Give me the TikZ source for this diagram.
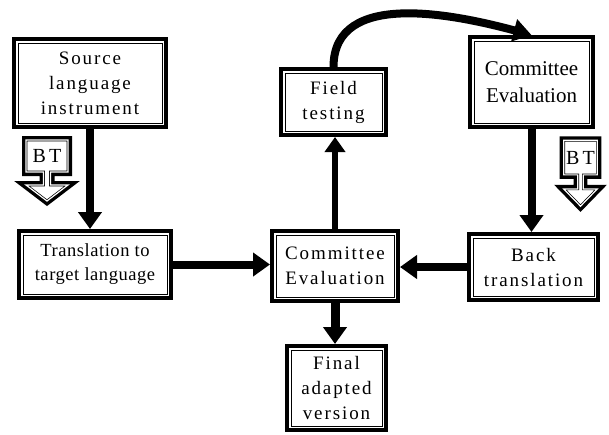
\documentclass[tikz,border=0pt]{standalone}
\usepackage{fontspec}
\setmainfont{Liberation Serif}
\newfontfamily\spacedfont[LetterSpace=10]{Liberation Serif}
\newfontfamily\lightfont[LetterSpace=3]{Liberation Serif}
\usetikzlibrary{arrows.meta,positioning}

\newcommand\btoutline{(-21,4) -- (21,4) -- (21,36) -- (3.5,36) -- (3.5,49) -- (21,49)
  -- (0,65) -- (-21,49) -- (-3.5,49) -- (-3.5,36) -- (-21,36) -- cycle}

\tikzset{
  stage/.style={draw, line width=4pt, fill=white, inner sep=0pt, outer sep=2pt, align=center,
    font=\spacedfont\fontsize{19}{25}\selectfont,
    path picture={\draw[line width=0.8pt]
      ([shift={(3.9pt,3.9pt)}]path picture bounding box.south west) rectangle
      ([shift={(-3.9pt,-3.9pt)}]path picture bounding box.north east);}},
  btouter/.style={draw, line width=8pt, line join=miter},
  btinner/.style={draw, fill=white, line width=0.7pt, double=white, double distance=1.2pt, line join=miter},
  flow/.style={line width=8pt, -{Triangle[width=23pt,length=17pt]}},
  btsign/.pic={
    \draw[btouter] \btoutline;
    \draw[btinner] \btoutline;
    \node[font=\rmfamily\fontsize{20}{22}\selectfont, inner sep=0pt] (-label) at (0,20) {B\,T};
  }
}

\begin{document}
\begin{tikzpicture}[x=1pt, y=-1pt]
\useasboundingbox (0,0) rectangle (609,434);

% boxes
\node[stage, minimum width=152pt, minimum height=88pt] (source) at (90,83) {Source\\language\\instrument};
\node[stage, minimum width=152pt, minimum height=67pt, font=\lightfont\fontsize{18.5}{24}\selectfont] (trans) at (95,264.5) {Translation to\\target language};
\node[stage, minimum width=126pt, minimum height=70pt] (ce) at (335,266) {Committee\\Evaluation};
\node[stage, minimum width=105pt, minimum height=66pt] (field) at (333.5,102) {Field\\testing};
\node[stage, minimum width=123pt, minimum height=90pt, font=\rmfamily\fontsize{21}{27}\selectfont] (ce2) at (531.5,82) {Committee\\Evaluation};
\node[stage, minimum width=129pt, minimum height=66pt] (back) at (533.5,267) {Back\\translation};
\node[stage, minimum width=99pt, minimum height=84pt] (final) at (336.5,388) {Final\\adapted\\version};

% BT signs
\pic (btleft) at (47,136) {btsign};
\pic[xscale=0.8, yscale=1.08] (btright) at (580.5,136) {btsign};

% arrows
\draw[flow] (source.south) -- (source.south |- trans.north);
\draw[flow] (trans.east) -- (trans.east -| ce.west);
\draw[flow] (back.west) -- (back.west -| ce.east);
\draw[flow, line width=6pt, -{Triangle[width=20pt,length=15pt]}] (ce.north) -- (ce.north |- field.south);
\draw[flow, line width=9pt] (ce.south) -- (ce.south |- final.north);
\draw[flow] (ce2.south) -- (ce2.south |- back.north);
\draw[flow, -{Triangle[width=22pt,length=18pt]}] (field.north) to[out=90, in=165] (ce2.north);

\end{tikzpicture}
\end{document}
